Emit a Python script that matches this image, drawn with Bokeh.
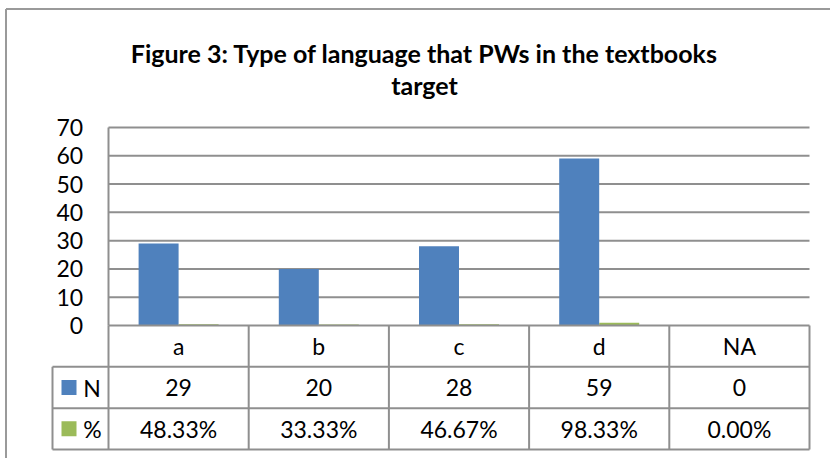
from bokeh.plotting import figure
from bokeh.models import Range1d, ColumnDataSource
from bokeh.embed import file_html
from bokeh.resources import INLINE
from bokeh.core.properties import value

# ---- data ----
categories = ["a", "b", "c", "d", "NA"]
n_values = [29, 20, 28, 59, 0]
pct_values = [0.4833, 0.3333, 0.4667, 0.9833, 0.0]
y_ticks = [0, 10, 20, 30, 40, 50, 60, 70]
series_names = ["N", "%"]
title_lines = ["Figure 3: Type of language that PWs in the textbooks", "target"]

# ---- style / geometry (pixels) ----
BLUE = "#4F81BD"
GREEN = "#9BBB59"
GRID = "#8f8f8f"
BORDER = "#9a9a9a"
FONT = "Lato"
FS = "23px"

W, H = 830, 458
X0 = 108            # left edge of plot area / table
Y0 = 325            # value-axis zero line
CW = 140.2          # px per category
PXU = 198 / 70      # px per value unit
ROWU = (124 / 3) / PXU   # table row height in value units
BW = 40 / CW        # bar width in category units

n = len(categories)
centers = [i + 0.5 for i in range(n)]
LEFT = (52 - X0) / CW

p = figure(width=W, height=H, output_backend="svg", toolbar_location=None,
           x_range=Range1d(-X0 / CW, (W - X0) / CW),
           y_range=Range1d(-(H - Y0) / PXU, Y0 / PXU),
           x_axis_type=None, y_axis_type=None, min_border=0)
p.outline_line_color = None
p.background_fill_color = "white"
p.border_fill_color = "white"

# outer chart border (left and top edges visible)
bx = (5.5 - X0) / CW
by = (Y0 - 8.5) / PXU
bottom = -(H - Y0) / PXU - 1
right = (W - X0) / CW + 1
p.segment(x0=[bx, bx], y0=[by, by], x1=[bx, right], y1=[bottom, by],
          line_color=BORDER, line_width=2)

# gridlines (above zero) and left plot-area edge
top_tick = y_ticks[-1]
upper = [t for t in y_ticks if t > 0]
p.segment(x0=[0] * len(upper), y0=upper, x1=[n] * len(upper), y1=upper,
          line_color=GRID, line_width=2)
p.segment(x0=[0], y0=[0], x1=[0], y1=[top_tick], line_color=GRID, line_width=2)

# y tick labels
p.text(x=[(82.7 - X0) / CW] * len(y_ticks), y=y_ticks, text=[str(t) for t in y_ticks],
       text_font=value(FONT), text_font_size=FS, text_align="right",
       text_baseline="middle", text_color="black")

# bars
bars = ColumnDataSource(dict(
    xn=[c - BW / 2 for c in centers],
    xp=[c + BW / 2 for c in centers],
    n=n_values, p=pct_values))
p.vbar(x="xn", top="n", width=BW, bottom=0, source=bars, fill_color=BLUE, line_color=None)
p.vbar(x="xp", top="p", width=BW, bottom=0, source=bars, fill_color=GREEN, line_color=None)

# zero line (category axis) drawn over bars
p.segment(x0=[0], y0=[0], x1=[n], y1=[0], line_color=GRID, line_width=2)

# title
p.text(x=[(424 - X0) / CW] * 2, y=[(Y0 - 52.7) / PXU, (Y0 - 84.7) / PXU], text=title_lines,
       text_font=value(FONT), text_font_style="bold", text_font_size="25px",
       text_align="center", text_baseline="alphabetic", text_color="black")

# data table lines
nrows = 3
hy = [-(k + 1) * ROWU for k in range(nrows)]
p.segment(x0=[LEFT] * nrows, y0=hy, x1=[n] * nrows, y1=hy, line_color=GRID, line_width=2)
vx = [float(i) for i in range(n + 1)]
p.segment(x0=vx, y0=[0] * len(vx), x1=vx, y1=[-nrows * ROWU] * len(vx),
          line_color=GRID, line_width=2)
p.segment(x0=[LEFT], y0=[-ROWU], x1=[LEFT], y1=[-nrows * ROWU], line_color=GRID, line_width=2)

# data table texts
tf = dict(text_font=value(FONT), text_font_size=FS, text_color="black",
          text_baseline="middle")
p.text(x=centers, y=[-0.5 * ROWU] * n, text=categories, text_align="center", **tf)
p.text(x=centers, y=[-1.5 * ROWU] * n, text=[str(v) for v in n_values],
       text_align="center", **tf)
p.text(x=centers, y=[-2.5 * ROWU] * n, text=[f"{v * 100:.2f}%" for v in pct_values],
       text_align="center", **tf)

# legend keys in table
p.rect(x=[(68.5 - X0) / CW] * 2, y=[-1.5 * ROWU, -2.5 * ROWU], width=15, height=15,
       width_units="screen", height_units="screen", fill_color=[BLUE, GREEN], line_color=None)
p.text(x=[(82.7 - X0) / CW] * 2, y=[-1.5 * ROWU, -2.5 * ROWU], text=series_names,
       text_align="left", **tf)

open("out.html", "w").write(file_html(p, INLINE))
